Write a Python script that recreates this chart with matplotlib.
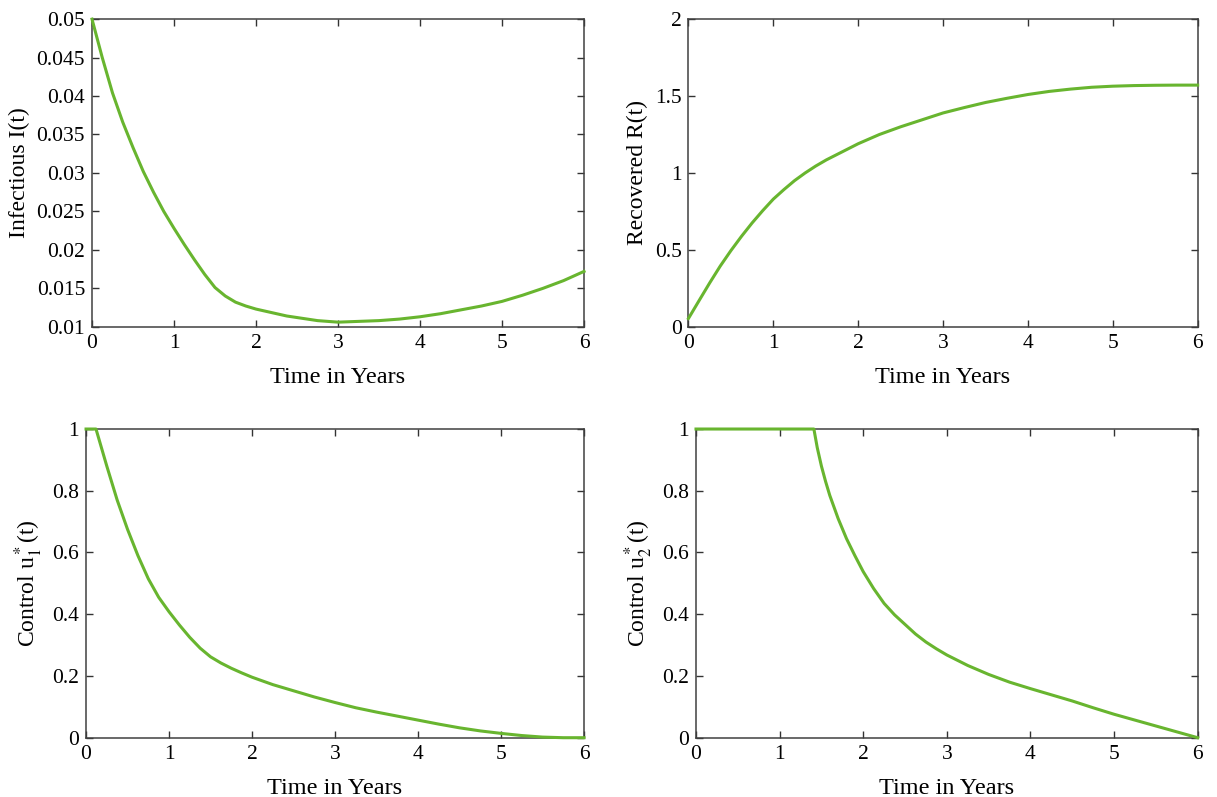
import matplotlib.pyplot as plt

plt.rcParams["font.family"] = ["Liberation Serif", "DejaVu Serif"]
plt.rcParams["mathtext.fontset"] = "stix"

# values (time in years)
t_i = [0, 0.125, 0.25, 0.375, 0.5, 0.625, 0.75, 0.875, 1.0, 1.125, 1.25,
       1.375, 1.5, 1.625, 1.75, 1.875, 2.0, 2.125, 2.25, 2.375, 2.5, 2.75,
       3.0, 3.25, 3.5, 3.75, 4.0, 4.25, 4.5, 4.75, 5.0, 5.25, 5.5, 5.75, 6.0]
infectious = [0.0500, 0.0450, 0.0404, 0.0366, 0.0333, 0.0302, 0.0275, 0.0250,
              0.0228, 0.0207, 0.0187, 0.0168, 0.0151, 0.0140, 0.0132, 0.0127,
              0.0123, 0.0120, 0.0117, 0.0114, 0.0112, 0.0108, 0.0106, 0.0107,
              0.0108, 0.0110, 0.0113, 0.0117, 0.0122, 0.0127, 0.0133, 0.0141,
              0.0150, 0.0160, 0.0172]

t_r = [0, 0.125, 0.25, 0.375, 0.5, 0.625, 0.75, 0.875, 1.0, 1.125, 1.25,
       1.375, 1.5, 1.625, 1.75, 1.875, 2.0, 2.25, 2.5, 2.75, 3.0, 3.25, 3.5,
       3.75, 4.0, 4.25, 4.5, 4.75, 5.0, 5.25, 5.5, 5.75, 6.0]
recovered = [0.054, 0.17, 0.285, 0.395, 0.495, 0.588, 0.675, 0.755, 0.83,
             0.892, 0.95, 1.0, 1.045, 1.085, 1.12, 1.155, 1.19, 1.25, 1.30,
             1.345, 1.39, 1.425, 1.458, 1.485, 1.51, 1.53, 1.545, 1.557, 1.564,
             1.568, 1.570, 1.571, 1.571]

t_u1 = [0, 0.12, 0.25, 0.375, 0.5, 0.625, 0.75, 0.875, 1.0, 1.125, 1.25,
        1.375, 1.5, 1.625, 1.75, 1.875, 2.0, 2.25, 2.5, 2.75, 3.0, 3.25, 3.5,
        3.75, 4.0, 4.25, 4.5, 4.75, 5.0, 5.25, 5.5, 5.75, 6.0]
u1 = [1.0, 1.0, 0.88, 0.77, 0.675, 0.59, 0.515, 0.455, 0.408, 0.365, 0.325,
      0.29, 0.262, 0.242, 0.225, 0.21, 0.196, 0.172, 0.152, 0.132, 0.114,
      0.097, 0.083, 0.070, 0.057, 0.044, 0.032, 0.022, 0.014, 0.007, 0.002,
      0.0, 0.0]

t_u2 = [0, 1.41, 1.45, 1.5, 1.55, 1.6, 1.7, 1.8, 1.9, 2.0, 2.125, 2.25, 2.375,
        2.5, 2.625, 2.75, 2.875, 3.0, 3.25, 3.5, 3.75, 4.0, 4.25, 4.5, 4.75,
        5.0, 5.25, 5.5, 5.75, 6.0]
u2 = [1.0, 1.0, 0.94, 0.88, 0.83, 0.785, 0.71, 0.645, 0.59, 0.538, 0.483,
      0.435, 0.398, 0.367, 0.336, 0.31, 0.288, 0.268, 0.234, 0.205, 0.18,
      0.159, 0.139, 0.119, 0.097, 0.076, 0.057, 0.038, 0.019, 0.0]

GREEN = "#68b52f"

fig = plt.figure(figsize=(12.17, 7.97), dpi=100)

panels = [
    ([0.0756, 0.590, 0.4043, 0.386], t_i, infectious, "Infectious I(t)",
     (0.01, 0.05), [0.01, 0.015, 0.02, 0.025, 0.03, 0.035, 0.04, 0.045, 0.05],
     ["0.01", "0.015", "0.02", "0.025", "0.03", "0.035", "0.04", "0.045", "0.05"]),
    ([0.5657, 0.590, 0.4184, 0.386], t_r, recovered, "Recovered R(t)",
     (0, 2), [0, 0.5, 1, 1.5, 2], ["0", "0.5", "1", "1.5", "2"]),
    ([0.0707, 0.0744, 0.4092, 0.3873], t_u1, u1, r"Control u$_1^*$(t)",
     (0, 1), [0, 0.2, 0.4, 0.6, 0.8, 1], ["0", "0.2", "0.4", "0.6", "0.8", "1"]),
    ([0.5719, 0.0744, 0.4122, 0.3873], t_u2, u2, r"Control u$_2^*$(t)",
     (0, 1), [0, 0.2, 0.4, 0.6, 0.8, 1], ["0", "0.2", "0.4", "0.6", "0.8", "1"]),
]

for rect, x, y, ylab, ylim, yt, ytl in panels:
    ax = fig.add_axes(rect)
    ax.plot(x, y, color=GREEN, linewidth=2.2, clip_on=False, zorder=3,
            solid_joinstyle="round")
    ax.set_xlim(0, 6)
    ax.set_ylim(*ylim)
    ax.set_xticks(range(7))
    ax.set_xticklabels([str(i) for i in range(7)])
    ax.set_yticks(yt)
    ax.set_yticklabels(ytl)
    ax.tick_params(direction="in", top=True, right=True, length=5, width=1,
                   labelsize=15.5, color="#333333", pad=5)
    for s in ax.spines.values():
        s.set_color("#404040")
        s.set_linewidth(1.1)
    ax.set_xlabel("Time in Years", fontsize=17.5, labelpad=10)
    ax.set_ylabel(ylab, fontsize=17, labelpad=5)

fig.savefig("out.png", dpi=100)
